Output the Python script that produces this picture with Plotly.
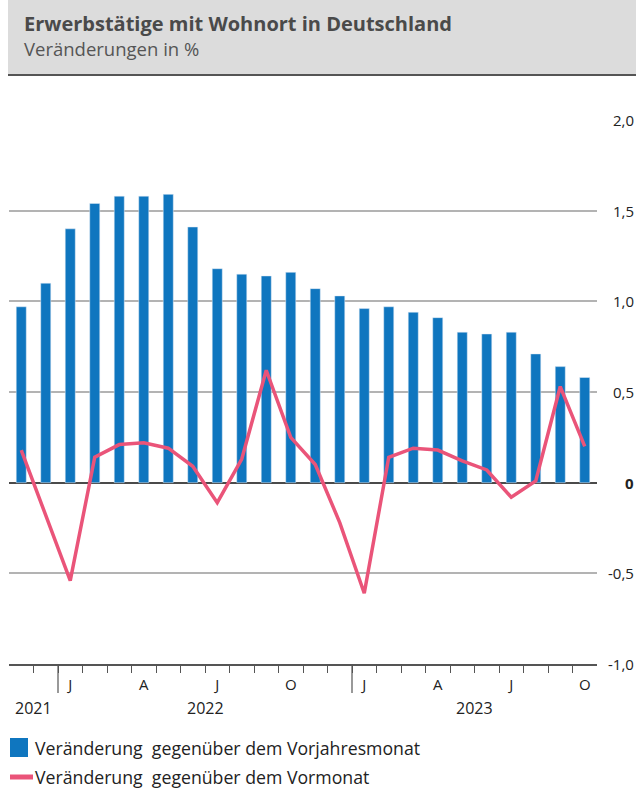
import plotly.graph_objects as go

# ---- data ----
months = ["2021-11", "2021-12",
          "2022-01", "2022-02", "2022-03", "2022-04", "2022-05", "2022-06",
          "2022-07", "2022-08", "2022-09", "2022-10", "2022-11", "2022-12",
          "2023-01", "2023-02", "2023-03", "2023-04", "2023-05", "2023-06",
          "2023-07", "2023-08", "2023-09", "2023-10"]
vorjahresmonat = [0.97, 1.10, 1.40, 1.54, 1.58, 1.58, 1.59, 1.41, 1.18, 1.15, 1.14, 1.16,
                  1.07, 1.03, 0.96, 0.97, 0.94, 0.91, 0.83, 0.82, 0.83, 0.71, 0.64, 0.58]
vormonat = [0.18, -0.18, -0.54, 0.14, 0.21, 0.22, 0.19, 0.09, -0.11, 0.13, 0.62, 0.25,
            0.10, -0.22, -0.61, 0.14, 0.19, 0.18, 0.12, 0.07, -0.08, 0.01, 0.53, 0.20]
month_ticks = {"01": "J", "04": "A", "07": "J", "10": "O"}
year_labels = ["2021", "2022", "2023"]
y_ticks = [2.0, 1.5, 1.0, 0.5, 0.0, -0.5, -1.0]
y_ticktext = ["2,0", "1,5", "1,0", "0,5", "<b>0</b>", "-0,5", "-1,0"]
title = "Erwerbstätige mit Wohnort in Deutschland"
subtitle = "Veränderungen in %"
legend_names = ["Veränderung  gegenüber dem Vorjahresmonat",
                "Veränderung  gegenüber dem Vormonat"]

BLUE = "#0f76bf"
PINK = "#ea5479"
FONT = "Open Sans"

W, H = 636, 795
L, R, T, B = 9, 39, 120, 131
PW, PH = W - L - R, H - T - B


def px(x):
    return (x - L) / PW


def py(y):
    return (H - B - y) / PH


xs = list(range(len(months)))

fig = go.Figure()
fig.add_trace(go.Bar(x=xs, y=vorjahresmonat, marker_color=BLUE, width=0.41,
                     name=legend_names[0], showlegend=False))
fig.add_trace(go.Scatter(x=xs, y=vormonat, mode="lines",
                         line=dict(color=PINK, width=3.5), name=legend_names[1],
                         showlegend=False))

tickvals = [i for i, m in enumerate(months) if m[5:] in month_ticks]
ticktext = [month_ticks[months[i][5:]] for i in tickvals]
boundaries = [i + 0.5 for i in range(len(months) - 1)]
year_bounds = [i + 0.5 for i in range(len(months) - 1) if months[i][:4] != months[i + 1][:4]]

fig.update_xaxes(range=[-0.5, len(months) - 0.5], tickmode="array",
                 tickvals=tickvals, ticktext=ticktext, ticks="outside", ticklen=6,
                 tickcolor="rgba(0,0,0,0)",
                 tickfont=dict(family=FONT, size=15, color="#222"),
                 showgrid=False, zeroline=False, showline=True,
                 linecolor="#555", linewidth=2,
                 minor=dict(tickmode="array", tickvals=boundaries, ticks="outside",
                            ticklen=7, tickcolor="#555", tickwidth=1.2, showgrid=False))
fig.update_yaxes(range=[-1, 2], tickmode="array", tickvals=y_ticks,
                 showticklabels=False, showgrid=True, gridcolor="#b3b3b3", gridwidth=1.5,
                 zeroline=True, zerolinecolor="#4a4a4a", zerolinewidth=2)

shapes = []
# header box
shapes.append(dict(type="rect", xref="paper", yref="paper", x0=px(8), x1=px(636),
                   y0=py(0), y1=py(74), fillcolor="#dcdcdc", line_width=0, layer="below"))
shapes.append(dict(type="line", xref="paper", yref="paper", x0=px(8), x1=px(636),
                   y0=py(75), y1=py(75), line=dict(color="#555", width=2)))
# long year separator ticks
for b in year_bounds:
    shapes.append(dict(type="line", xref="x", yref="paper", x0=b, x1=b,
                       y0=0, y1=py(693), line=dict(color="#555", width=1.2)))
# legend markers
shapes.append(dict(type="rect", xref="paper", yref="paper", x0=px(10), x1=px(28),
                   y0=py(738), y1=py(757), fillcolor=BLUE, line_width=0))
shapes.append(dict(type="line", xref="paper", yref="paper", x0=px(10), x1=px(33),
                   y0=py(777), y1=py(777), line=dict(color=PINK, width=5)))

ann = []
ann.append(dict(text="<b>" + title + "</b>", xref="paper", yref="paper", x=px(22), y=py(23),
                xanchor="left", yanchor="middle", showarrow=False,
                font=dict(family=FONT, size=20, color="#4a4a4a")))
ann.append(dict(text=subtitle, xref="paper", yref="paper", x=px(22), y=py(49),
                xanchor="left", yanchor="middle", showarrow=False,
                font=dict(family=FONT, size=18.5, color="#555")))
for v, t in zip(y_ticks, y_ticktext):
    ann.append(dict(text=t, xref="paper", yref="y", x=px(636), y=v,
                    xanchor="right", yanchor="middle", showarrow=False,
                    font=dict(family=FONT, size=15, color="#222")))
year_pos = [0.5, 7.5, 18.5]
for yl, xp in zip(year_labels, year_pos):
    ann.append(dict(text=yl, xref="x", yref="paper", x=xp, y=py(708),
                    xanchor="center", yanchor="middle", showarrow=False,
                    font=dict(family=FONT, size=16, color="#222")))
for name, yy in zip(legend_names, [748, 777]):
    ann.append(dict(text=name, xref="paper", yref="paper", x=px(33), y=py(yy),
                    xanchor="left", yanchor="middle", showarrow=False,
                    font=dict(family=FONT, size=17.7, color="#222")))

fig.update_layout(width=W, height=H, margin=dict(l=L, r=R, t=T, b=B),
                  paper_bgcolor="white", plot_bgcolor="white",
                  shapes=shapes, annotations=ann, showlegend=False, bargap=0.6)

fig.write_html("out.html", config={"displayModeBar": False},
               post_script="document.body.style.margin='0';document.body.style.padding='0';")
